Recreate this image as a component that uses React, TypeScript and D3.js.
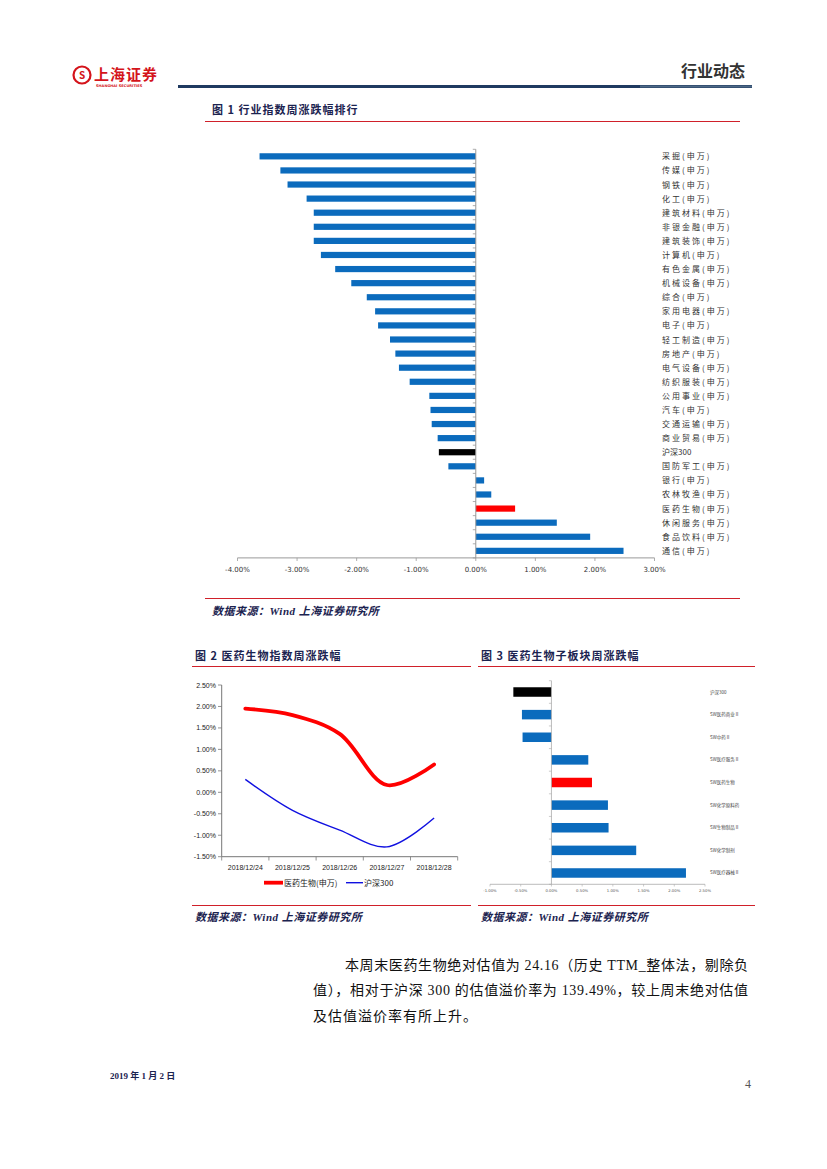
import React from "react";
import * as d3 from "d3";

// ---------- Data ----------
const industries = [
  "采掘(申万)", "传媒(申万)", "钢铁(申万)", "化工(申万)", "建筑材料(申万)", "非银金融(申万)",
  "建筑装饰(申万)", "计算机(申万)", "有色金属(申万)", "机械设备(申万)", "综合(申万)", "家用电器(申万)",
  "电子(申万)", "轻工制造(申万)", "房地产(申万)", "电气设备(申万)", "纺织服装(申万)", "公用事业(申万)",
  "汽车(申万)", "交通运输(申万)", "商业贸易(申万)", "沪深300", "国防军工(申万)", "银行(申万)",
  "农林牧渔(申万)", "医药生物(申万)", "休闲服务(申万)", "食品饮料(申万)", "通信(申万)",
];
const industryChanges = [
  -3.63, -3.28, -3.16, -2.84, -2.72, -2.72, -2.72, -2.60, -2.36, -2.09, -1.83, -1.69,
  -1.64, -1.44, -1.35, -1.29, -1.11, -0.78, -0.76, -0.74, -0.64, -0.62, -0.46, 0.14,
  0.26, 0.66, 1.36, 1.92, 2.48,
];
const chart1Ticks = [-4, -3, -2, -1, 0, 1, 2, 3];

const dates = ["2018/12/24", "2018/12/25", "2018/12/26", "2018/12/27", "2018/12/28"];
const pharmaSeries = [1.95, 1.80, 1.36, 0.17, 0.65];
const hs300Series = [0.30, -0.42, -0.88, -1.27, -0.60];
const chart2Ticks = [-1.5, -1.0, -0.5, 0, 0.5, 1.0, 1.5, 2.0, 2.5];

const subSectors = [
  "沪深300", "SW医药商业Ⅱ", "SW中药Ⅱ", "SW医疗服务Ⅱ", "SW医药生物",
  "SW化学原料药", "SW生物制品Ⅱ", "SW化学制剂", "SW医疗器械Ⅱ",
];
const subSectorChanges = [-0.62, -0.48, -0.47, 0.60, 0.66, 0.92, 0.93, 1.38, 2.19];
const chart3Ticks = [-1, -0.5, 0, 0.5, 1, 1.5, 2, 2.5];

// ---------- Styles ----------
const BLUE = "#0b6bbd";
const RED = "#ff0000";
const RULE_RED = "#d0202a";
const NAVY = "#1b2350";
const CJK_SERIF = "'Liberation Serif', 'Noto Sans CJK SC', serif";
const CJK = "'Noto Sans CJK SC', sans-serif";

function barColor(name: string) {
  if (name === "沪深300") return "#000";
  if (name.startsWith("医药生物") || name === "SW医药生物") return RED;
  return BLUE;
}
const pct = (v: number) => v.toFixed(2) + "%";

export default function App() {
  // Chart 1
  const x1 = d3.scaleLinear().domain([-4, 3]).range([237.5, 654.5]);
  const y1 = d3.scaleBand<string>().domain(industries).range([149.3, 557.9]).paddingInner(0.56).paddingOuter(0.28);
  const x0_1 = x1(0);
  const step1 = y1.step();

  // Chart 2
  const x2 = d3.scaleBand<string>().domain(dates).range([221.7, 457.7]);
  const y2 = d3.scaleLinear().domain([-1.5, 2.5]).range([856.7, 685]);
  const line2 = d3
    .line<number>()
    .x((_, i) => (x2(dates[i]) as number) + x2.bandwidth() / 2)
    .y((d) => y2(d))
    .curve(d3.curveCatmullRom.alpha(0.5));

  // Chart 3
  const x3 = d3.scaleLinear().domain([-1, 2.5]).range([490, 705]);
  const y3 = d3.scaleBand<string>().domain(subSectors).range([680.7, 884.3]).paddingInner(0.58).paddingOuter(0.29);
  const x0_3 = x3(0);
  const step3 = y3.step();

  const para1 = "本周末医药生物绝对估值为 24.16（历史 TTM_整体法，剔除负";
  const para2 = "值），相对于沪深 300 的估值溢价率为 139.49%，较上周末绝对估值";
  const para3 = "及估值溢价率有所上升。";

  return (
    <svg
      width={827}
      height={1169}
      viewBox="0 0 827 1169"
      style={{ position: "absolute", left: 0, top: 0, background: "#fff" }}
    >
      {/* Header */}
      <g>
        <circle cx={82} cy={75} r={8.5} fill="none" stroke="#d4141b" strokeWidth={2.2} />
        <text x={82} y={79} textAnchor="middle" fontSize={10} fontWeight="bold" fill="#d4141b" fontFamily={CJK}>
          S
        </text>
        <text x={94} y={80} fontSize={15} fontWeight="bold" fill="#d4141b" fontFamily={CJK} letterSpacing={1}>
          上海证券
        </text>
        <text x={96} y={87} fontSize={3.6} fontWeight="bold" fill="#d4141b" fontFamily="'DejaVu Sans'">
          SHANGHAI SECURITIES
        </text>
        <text x={745} y={77} textAnchor="end" fontSize={16} fontWeight="bold" fill="#333" fontFamily={CJK}>
          行业动态
        </text>
        <line x1={178} x2={752} y1={86.5} y2={86.5} stroke="#1f3a60" strokeWidth={3} />
        <line x1={640} x2={752} y1={86.5} y2={86.5} stroke="#4d6885" strokeWidth={2} />
      </g>

      {/* Chart 1 title */}
      <text x={212} y={114} fontSize={11} fontWeight="bold" fill={NAVY} fontFamily={CJK} letterSpacing={1}>
        图 1 行业指数周涨跌幅排行
      </text>
      <line x1={205} x2={740} y1={121.5} y2={121.5} stroke={RULE_RED} strokeWidth={1} />

      {/* Chart 1 bars */}
      <g>
        {industries.map((name, i) => {
          const v = industryChanges[i];
          const y = y1(name) as number;
          const x = Math.min(x1(v), x0_1);
          const w = Math.abs(x1(v) - x0_1);
          return <rect key={name} x={x} y={y} width={w} height={y1.bandwidth()} fill={barColor(name)} />;
        })}
        {/* y axis */}
        <line x1={x0_1} x2={x0_1} y1={149.3} y2={557.9} stroke="#999" strokeWidth={1} />
        {d3.range(industries.length + 1).map((k) => (
          <line key={k} x1={x0_1 - 3} x2={x0_1} y1={149.3 + k * step1} y2={149.3 + k * step1} stroke="#999" strokeWidth={0.8} />
        ))}
        {/* x axis */}
        <line x1={x1(-4)} x2={x1(3)} y1={557.9} y2={557.9} stroke="#999" strokeWidth={1} />
        {chart1Ticks.map((t) => (
          <g key={t}>
            <line x1={x1(t)} x2={x1(t)} y1={557.9} y2={561} stroke="#999" strokeWidth={0.8} />
            <text x={x1(t)} y={572} textAnchor="middle" fontSize={7} fill="#333" fontFamily="'DejaVu Sans'">
              {pct(t)}
            </text>
          </g>
        ))}
        {industries.map((name) => (
          <text
            key={"l" + name}
            x={662}
            y={(y1(name) as number) + y1.bandwidth() / 2 + 3}
            fontSize={8}
            letterSpacing={name === "沪深300" ? 0 : 2}
            fill="#333"
            fontFamily={CJK}
          >
            {name}
          </text>
        ))}
      </g>

      <line x1={205} x2={740} y1={598.5} y2={598.5} stroke={RULE_RED} strokeWidth={1} />
      <text x={212} y={615} fontSize={11} fontWeight="bold" fontStyle="italic" fill={NAVY} fontFamily={CJK_SERIF} letterSpacing={0.5}>
        数据来源：Wind  上海证券研究所
      </text>

      {/* Chart 2 & 3 titles */}
      <text x={195} y={660} fontSize={11} fontWeight="bold" fill={NAVY} fontFamily={CJK} letterSpacing={1}>
        图 2 医药生物指数周涨跌幅
      </text>
      <text x={481} y={660} fontSize={11} fontWeight="bold" fill={NAVY} fontFamily={CJK} letterSpacing={1}>
        图 3 医药生物子板块周涨跌幅
      </text>
      <line x1={192} x2={471} y1={666.5} y2={666.5} stroke={RULE_RED} strokeWidth={1} />
      <line x1={478} x2={755} y1={666.5} y2={666.5} stroke={RULE_RED} strokeWidth={1} />

      {/* Chart 2 */}
      <g>
        <line x1={221.7} x2={221.7} y1={685} y2={856.7} stroke="#777" strokeWidth={1} />
        {chart2Ticks.map((t) => (
          <g key={t}>
            <line x1={218} x2={221.7} y1={y2(t)} y2={y2(t)} stroke="#777" strokeWidth={0.8} />
            <text x={216} y={y2(t) + 2.5} textAnchor="end" fontSize={7} fill="#222" fontFamily="'Liberation Sans'">
              {pct(t)}
            </text>
          </g>
        ))}
        <line x1={221.7} x2={457.7} y1={856.7} y2={856.7} stroke="#777" strokeWidth={1} />
        {d3.range(dates.length + 1).map((k) => {
          const xx = 221.7 + k * x2.step();
          return <line key={k} x1={xx} x2={xx} y1={856.7} y2={860.5} stroke="#777" strokeWidth={0.8} />;
        })}
        {dates.map((d) => (
          <text
            key={d}
            x={(x2(d) as number) + x2.bandwidth() / 2}
            y={869.5}
            textAnchor="middle"
            fontSize={7}
            fill="#222"
            fontFamily="'Liberation Sans'"
          >
            {d}
          </text>
        ))}
        <path d={line2(pharmaSeries) || ""} fill="none" stroke={RED} strokeWidth={3.8} strokeLinecap="round" />
        <path d={line2(hs300Series) || ""} fill="none" stroke="#1010e0" strokeWidth={1.4} />
        {/* Legend */}
        <line x1={264} x2={283} y1={882.7} y2={882.7} stroke={RED} strokeWidth={3.8} />
        <text x={284} y={885.5} fontSize={8} fill="#222" fontFamily={CJK}>
          医药生物(申万)
        </text>
        <line x1={346} x2={363} y1={882.7} y2={882.7} stroke="#1010e0" strokeWidth={1.4} />
        <text x={364} y={885.5} fontSize={8} fill="#222" fontFamily={CJK}>
          沪深300
        </text>
      </g>

      {/* Chart 3 */}
      <g>
        {subSectors.map((name, i) => {
          const v = subSectorChanges[i];
          const y = y3(name) as number;
          const x = Math.min(x3(v), x0_3);
          const w = Math.abs(x3(v) - x0_3);
          return <rect key={name} x={x} y={y} width={w} height={y3.bandwidth()} fill={barColor(name)} />;
        })}
        <line x1={x0_3} x2={x0_3} y1={680.7} y2={884.3} stroke="#aaa" strokeWidth={0.8} />
        {d3.range(subSectors.length + 1).map((k) => (
          <line key={k} x1={x0_3 - 2.5} x2={x0_3} y1={680.7 + k * step3} y2={680.7 + k * step3} stroke="#aaa" strokeWidth={0.6} />
        ))}
        <line x1={x3(-1)} x2={x3(2.5)} y1={884.3} y2={884.3} stroke="#aaa" strokeWidth={0.8} />
        {chart3Ticks.map((t) => (
          <g key={t}>
            <line x1={x3(t)} x2={x3(t)} y1={884.3} y2={886.5} stroke="#aaa" strokeWidth={0.6} />
            <text x={x3(t)} y={892} textAnchor="middle" fontSize={3.8} fill="#555" fontFamily="'DejaVu Sans'">
              {pct(t)}
            </text>
          </g>
        ))}
        {subSectors.map((name) => (
          <text
            key={"l" + name}
            x={710}
            y={(y3(name) as number) + y3.bandwidth() / 2 + 1.5}
            fontSize={4.5}
            fill="#444"
            fontFamily={CJK}
          >
            {name}
          </text>
        ))}
      </g>

      <line x1={192} x2={471} y1={905.5} y2={905.5} stroke={RULE_RED} strokeWidth={1} />
      <line x1={478} x2={755} y1={905.5} y2={905.5} stroke={RULE_RED} strokeWidth={1} />
      <text x={195} y={921} fontSize={11} fontWeight="bold" fontStyle="italic" fill={NAVY} fontFamily={CJK_SERIF} letterSpacing={0.5}>
        数据来源：Wind 上海证券研究所
      </text>
      <text x={481} y={921} fontSize={11} fontWeight="bold" fontStyle="italic" fill={NAVY} fontFamily={CJK_SERIF} letterSpacing={0.5}>
        数据来源：Wind 上海证券研究所
      </text>

      {/* Paragraph */}
      <g fontFamily={CJK_SERIF} fontSize={14} fill="#111">
        <text x={345} y={970} textLength={403} lengthAdjust="spacing">{para1}</text>
        <text x={313} y={995} textLength={435} lengthAdjust="spacing">{para2}</text>
        <text x={313} y={1021} letterSpacing={1}>{para3}</text>
      </g>

      {/* Footer */}
      <text x={110} y={1079} fontSize={9} fontWeight="bold" fill={NAVY} fontFamily={CJK_SERIF}>
        2019 年 1 月 2 日
      </text>
      <text x={745} y={1088} fontSize={12} fill="#555" fontFamily="'Liberation Serif'">
        4
      </text>
    </svg>
  );
}
